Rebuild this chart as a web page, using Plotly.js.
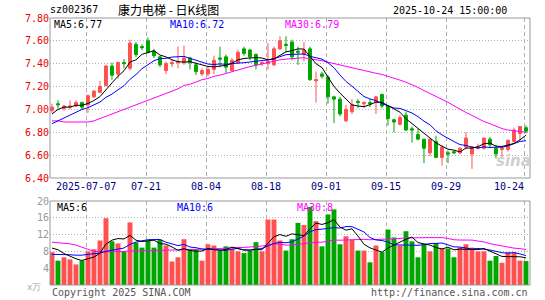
<!DOCTYPE html>
<html><head><meta charset="utf-8">
<script src="https://cdn.plot.ly/plotly-3.0.1.min.js"></script>
<style>html,body{margin:0;padding:0;background:#fff}#chart{width:545px;height:300px}</style>
</head><body><div id="chart"></div>
<script>
// ---- data (康力电梯 sz002367, daily K, 2025-06-27 .. 2025-10-24) ----
const opens = [6.99,7.05,7.01,7.02,7.03,7.06,7.04,7.11,7.15,7.21,
 7.38,7.31,7.41,7.36,7.57,7.55,7.60,7.51,7.46,7.34,
 7.40,7.41,7.41,7.45,7.39,7.31,7.31,7.35,7.45,7.46,
 7.34,7.41,7.53,7.52,7.48,7.40,7.40,7.39,7.53,7.57,
 7.59,7.51,7.48,7.53,7.25,7.31,7.28,7.11,7.09,6.90,
 6.98,7.07,7.05,7.06,7.06,7.13,7.03,6.91,6.87,6.95,
 6.83,6.78,6.74,6.62,6.72,6.58,6.62,6.63,6.62,6.67,
 6.61,6.66,6.66,6.74,6.66,6.65,6.65,6.72,6.79,6.84];
const highs = [7.05,7.08,7.04,7.08,7.08,7.07,7.13,7.17,7.25,7.39,
 7.41,7.42,7.44,7.61,7.59,7.57,7.63,7.53,7.47,7.42,
 7.44,7.55,7.56,7.46,7.41,7.36,7.38,7.47,7.55,7.48,
 7.45,7.52,7.55,7.53,7.49,7.42,7.58,7.55,7.64,7.64,
 7.61,7.55,7.59,7.55,7.33,7.33,7.30,7.12,7.11,7.04,
 7.09,7.09,7.07,7.09,7.12,7.14,7.03,6.92,6.95,6.98,
 6.85,6.83,6.74,6.75,6.77,6.69,6.64,6.64,6.67,6.80,
 6.68,6.70,6.75,6.76,6.69,6.68,6.73,6.84,6.85,6.86];
const lows = [6.97,7.01,6.99,7.00,7.02,7.00,6.97,7.10,7.14,7.20,
 7.26,7.27,7.36,7.34,7.46,7.52,7.49,7.45,7.37,7.31,
 7.37,7.36,7.39,7.35,7.30,7.29,7.29,7.31,7.37,7.32,
 7.33,7.40,7.47,7.43,7.35,7.38,7.35,7.38,7.52,7.50,
 7.43,7.39,7.42,7.25,7.06,7.27,7.05,6.88,6.94,6.89,
 6.96,7.01,7.01,7.02,6.96,7.01,6.86,6.80,6.86,6.81,
 6.71,6.73,6.53,6.59,6.58,6.51,6.53,6.61,6.61,6.65,
 6.48,6.65,6.65,6.67,6.57,6.57,6.63,6.71,6.73,6.79];
const closes = [7.02,7.04,7.03,7.03,7.06,7.02,7.12,7.16,7.20,7.38,
 7.30,7.41,7.40,7.58,7.48,7.54,7.50,7.47,7.39,7.40,
 7.41,7.42,7.45,7.41,7.33,7.34,7.35,7.43,7.44,7.37,
 7.43,7.50,7.49,7.46,7.39,7.41,7.42,7.53,7.60,7.56,
 7.46,7.50,7.52,7.26,7.26,7.29,7.11,7.09,6.96,7.00,
 7.04,7.06,7.06,7.05,7.11,7.03,6.92,6.89,6.93,6.82,
 6.82,6.74,6.66,6.74,6.58,6.67,6.61,6.62,6.66,6.75,
 6.67,6.67,6.75,6.69,6.61,6.66,6.73,6.82,6.85,6.81];
const volumes = [7.8,5.8,6.6,6.1,4.9,5.8,8.0,8.5,10.6,15.9,
 10.4,9.9,8.0,14.9,10.1,8.9,10.6,8.9,10.8,9.4,
 5.6,6.6,10.9,8.6,8.5,5.8,9.7,9.4,8.2,9.2,
 8.6,8.0,7.6,8.1,10.2,8.0,15.6,15.6,10.6,8.2,
 10.9,14.8,14.3,18.6,15.2,9.2,16.8,18.0,9.7,11.6,
 10.8,8.2,8.2,5.4,9.4,7.8,13.2,11.3,9.4,12.8,
 10.4,6.6,9.7,8.0,9.9,8.7,8.7,6.6,8.9,9.7,
 8.9,8.0,8.0,5.8,6.9,5.3,7.8,7.8,5.8,5.7];
// moving-average values at the left edge (window reaches before the first candle)
const ma5Head  = [6.96,7.00,7.02,7.02];
const ma10Head = [6.875,6.90,6.92,6.95,6.975,7.00,7.015,7.04,7.065];
const ma30Head = [6.90,6.90,6.89,6.89,6.89,6.89,6.89,6.90,6.92,6.945,6.96,6.98,7.00,7.02,7.04,7.06,7.08,7.10,7.12,7.14,7.16,7.18,7.21,7.22,7.24,7.26,7.27,7.29,7.30];
const vma5Head  = [8.8,8.4,7.5,6.8];
const vma10Head = [7.3,7.3,7.2,7.2,7.1,7.1,7.3,7.5,7.6];
const vma30Head = [10.2,10.1,10.0,9.8,9.5,9.0,8.4,8.0,7.9,7.9,8.0,8.0,8.0,8.1,8.1,8.1,8.2,8.2,8.2,8.3,8.3,8.3,8.4,8.4,8.5,8.5,8.6,8.6,8.7];
const tickIdx    = [6,16,26,36,46,56,66,79];
const tickLabels = ['2025-07-07','07-21','08-04','08-18','09-01','09-15','09-29','10-24'];
const priceTicks = [6.40,6.60,6.80,7.00,7.20,7.40,7.60,7.80];
const volTicks   = [4,8,12,16,20];
const priceMaText = ['MA5:6.77','MA10:6.72','MA30:6.79'];
const volMaText   = ['MA5:6','MA10:6','MA30:8'];
const headerCode = 'sz002367';
const headerName = '康力电梯 - 日K线图';
const headerTime = '2025-10-24 15:00:00';

// ---- build ----
const RED='#ff5151', GREEN='#00a600', MA5C='#000000', MA10C='#0000ff', MA30C='#ff00ff';
const idx = closes.map((_,i)=>i);
function movAvg(arr,n,head){
  return arr.map((v,i)=>{
    if(i<n-1) return head[i];
    let s=0; for(let k=i-n+1;k<=i;k++) s+=arr[k]; return s/n;
  });
}
const upColors = closes.map((c,i)=> c>=opens[i] ? RED : GREEN);
const gridX = tickIdx.map(i=>i-0.25);

const PX = px => (px-50)/480;      // paper x from pixel
const PY = py => (285-py)/267;     // paper y from pixel
const mono = 'DejaVu Sans Mono, monospace';

const traces = [
  {type:'candlestick', x:idx, open:opens, high:highs, low:lows, close:closes, xaxis:'x', yaxis:'y',
   increasing:{line:{color:RED,width:1}, fillcolor:RED},
   decreasing:{line:{color:GREEN,width:1}, fillcolor:GREEN},
   whiskerwidth:0, hoverinfo:'skip'},
  {type:'scatter', mode:'lines', x:idx, y:movAvg(closes,30,ma30Head), xaxis:'x', yaxis:'y', line:{color:MA30C,width:1}, hoverinfo:'skip'},
  {type:'scatter', mode:'lines', x:idx, y:movAvg(closes,10,ma10Head), xaxis:'x', yaxis:'y', line:{color:MA10C,width:1}, hoverinfo:'skip'},
  {type:'scatter', mode:'lines', x:idx, y:movAvg(closes,5,ma5Head), xaxis:'x', yaxis:'y', line:{color:MA5C,width:1}, hoverinfo:'skip'},
  {type:'bar', x:idx, y:volumes, xaxis:'x2', yaxis:'y2', marker:{color:upColors, line:{width:0}}, width:0.82, hoverinfo:'skip'},
  {type:'scatter', mode:'lines', x:idx, y:movAvg(volumes,30,vma30Head), xaxis:'x2', yaxis:'y2', line:{color:MA30C,width:1}, hoverinfo:'skip'},
  {type:'scatter', mode:'lines', x:idx, y:movAvg(volumes,10,vma10Head), xaxis:'x2', yaxis:'y2', line:{color:MA10C,width:1}, hoverinfo:'skip'},
  {type:'scatter', mode:'lines', x:idx, y:movAvg(volumes,5,vma5Head), xaxis:'x2', yaxis:'y2', line:{color:MA5C,width:1}, hoverinfo:'skip'}
];

const xBase = {range:[-0.33,79.67], tickvals:gridX, showticklabels:false, ticks:'', showgrid:true,
  gridcolor:'#b0b0b0', griddash:'4px,3px', gridwidth:1, zeroline:false, showline:false, fixedrange:true,
  rangeslider:{visible:false}};
const yGrid = {showgrid:true, gridcolor:'#b0b0b0', griddash:'1px,2px', gridwidth:1, zeroline:false,
  showline:false, ticks:'', fixedrange:true};

const annotations = [];
tickIdx.forEach((t,k)=>{
  const last = k===tickIdx.length-1;
  annotations.push({xref:'x', yref:'paper', x: last ? t+0.0 : gridX[k], y:PY(186), text:tickLabels[k],
    showarrow:false, xanchor: last?'right':'center', yanchor:'middle',
    font:{family:mono, size:10, color:'#000080'}});
});
const pmc=[MA5C,MA10C,MA30C], pmx=[52,168,283];
priceMaText.forEach((t,k)=>annotations.push({xref:'paper',yref:'paper',x:PX(pmx[k]),y:PY(24.5),text:t,showarrow:false,
  xanchor:'left',yanchor:'middle',font:{family:mono,size:10,color:pmc[k]}}));
const vmx=[55,175,295];
volMaText.forEach((t,k)=>annotations.push({xref:'paper',yref:'paper',x:PX(vmx[k]),y:PY(207),text:t,showarrow:false,
  xanchor:'left',yanchor:'middle',font:{family:mono,size:10,color:pmc[k]}}));
annotations.push({xref:'paper',yref:'paper',x:PX(48),y:PY(10),text:headerCode,showarrow:false,xanchor:'left',yanchor:'middle',
  font:{family:mono,size:10,color:'#000'}});
annotations.push({xref:'paper',yref:'paper',x:PX(116),y:PY(10),text:headerName,showarrow:false,xanchor:'left',yanchor:'middle',
  font:{family:'Noto Sans CJK SC, sans-serif',size:12,color:'#000'}});
annotations.push({xref:'paper',yref:'paper',x:PX(509),y:PY(10.5),text:headerTime,showarrow:false,xanchor:'right',yanchor:'middle',
  font:{family:mono,size:10,color:'#000'}});
annotations.push({xref:'paper',yref:'paper',x:PX(43),y:PY(287),text:'x万',showarrow:false,xanchor:'right',yanchor:'middle',
  font:{family:mono,size:9,color:'#aaa'}});
annotations.push({xref:'paper',yref:'paper',x:PX(50),y:PY(292.5),text:'Copyright 2025 SINA.COM',showarrow:false,xanchor:'left',yanchor:'middle',
  font:{family:mono,size:10,color:'#555'}});
annotations.push({xref:'paper',yref:'paper',x:PX(530),y:PY(292.5),text:'http://finance.sina.com.cn',showarrow:false,xanchor:'right',yanchor:'middle',
  font:{family:mono,size:10,color:'#555'}});
annotations.push({xref:'paper',yref:'paper',x:PX(513),y:PY(161),text:'<b><i>sina</i></b>',showarrow:false,xanchor:'center',yanchor:'middle',
  font:{family:'DejaVu Sans, sans-serif',size:15,color:'#d0d0d0'}});

const layout = {
  width:545, height:300, margin:{l:50,r:15,t:18,b:15},
  paper_bgcolor:'#fff', plot_bgcolor:'#fff', showlegend:false, dragmode:false,
  xaxis:Object.assign({}, xBase, {anchor:'y', domain:[0,1]}),
  xaxis2:Object.assign({}, xBase, {anchor:'y2', domain:[0,1]}),
  yaxis:Object.assign({}, yGrid, {domain:[PY(178),1], range:[6.40,7.80], tickvals:priceTicks,
    ticktext:priceTicks.map(v=>v.toFixed(2)), tickfont:{family:mono,size:10,color:'#ee0000'}}),
  yaxis2:Object.assign({}, yGrid, {domain:[0,PY(201)], range:[0,20], tickvals:volTicks,
    ticktext:volTicks.map(String), tickfont:{family:mono,size:10,color:'#999'}}),
  shapes:[
    {type:'rect',xref:'paper',yref:'paper',x0:0,x1:1,y0:PY(178),y1:1,line:{color:'#999',width:1}},
    {type:'rect',xref:'paper',yref:'paper',x0:0,x1:1,y0:0,y1:PY(201),line:{color:'#999',width:1}}
  ],
  annotations:annotations
};
Plotly.newPlot('chart', traces, layout, {staticPlot:true, displayModeBar:false});
</script></body></html>
